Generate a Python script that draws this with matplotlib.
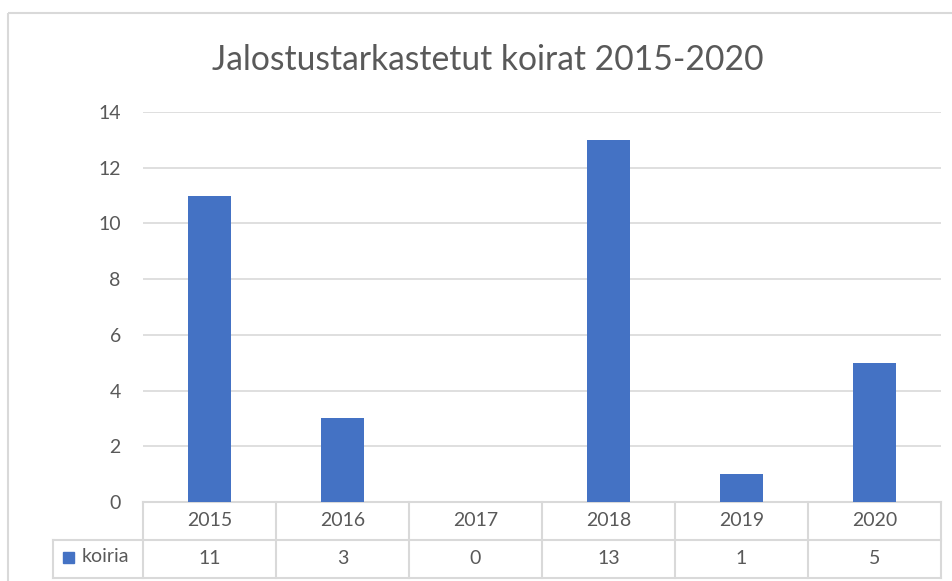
import matplotlib.pyplot as plt
import matplotlib.transforms as mtransforms
from matplotlib.patches import Rectangle
from matplotlib.lines import Line2D

years = ['2015', '2016', '2017', '2018', '2019', '2020']
koiria = [11, 3, 0, 13, 1, 5]
series_name = 'koiria'
title = 'Jalostustarkastetut koirat 2015-2020'
yticks = [0, 2, 4, 6, 8, 10, 12, 14]

blue = '#4472c4'
grey = '#d9d9d9'
text_c = '#595959'

plt.rcParams['font.family'] = ['Lato', 'DejaVu Sans']

W, H = 952, 581
fig = plt.figure(figsize=(W / 100, H / 100), dpi=100)
# pixel coordinates, origin top-left
px = mtransforms.Affine2D().scale(1 / W, -1 / H).translate(0, 1) + fig.transFigure

# chart frame (runs off the right and bottom edge)
fig.add_artist(Rectangle((8, 13), 1000, 700, transform=px, fill=False,
                         edgecolor=grey, lw=1.5))

fig.text(488, 60, title, transform=px, ha='center', va='center',
         fontsize=24.2, color=text_c)

ax = fig.add_axes([143 / W, (H - 502) / H, 798 / W, 390 / H])
x = range(len(years))
ax.bar(x, koiria, width=0.32, color=blue, zorder=3)
ax.set_xlim(-0.5, len(years) - 0.5)
ax.set_ylim(0, 14)
ax.set_yticks(yticks)
ax.set_xticks([])
ax.grid(axis='y', color=grey, lw=1.2)
ax.set_axisbelow(True)
for s in ax.spines.values():
    s.set_visible(False)
ax.tick_params(axis='y', length=0, pad=16, labelsize=14, labelcolor=text_c)

# data table below the plot
rh = 38 / 390
left = (53 - 143) / 798
tb = mtransforms.blended_transform_factory(ax.transData, ax.transAxes)
n = len(years)
lines = [
    Line2D([-0.5, n - 0.5], [0, 0], transform=tb),
    Line2D([left, 1], [-rh, -rh], transform=ax.transAxes),
    Line2D([left, 1], [-2 * rh, -2 * rh], transform=ax.transAxes),
    Line2D([left, left], [-rh, -2 * rh], transform=ax.transAxes),
]
for i in range(n + 1):
    lines.append(Line2D([i - 0.5, i - 0.5], [0, -2 * rh], transform=tb))
for ln in lines:
    ln.set_color(grey)
    ln.set_linewidth(1.5)
    ln.set_clip_on(False)
    ax.add_artist(ln)

for i in range(n):
    ax.text(i, -rh / 2, years[i], transform=tb, ha='center', va='center',
            fontsize=14, color=text_c)
    ax.text(i, -1.5 * rh, str(koiria[i]), transform=tb, ha='center',
            va='center', fontsize=14, color=text_c)

fig.add_artist(Rectangle((63, 552), 11, 11, transform=px, color=blue))
fig.text(82, 557, series_name, transform=px, ha='left', va='center',
         fontsize=14, color=text_c)

fig.savefig('out.png', dpi=100)
